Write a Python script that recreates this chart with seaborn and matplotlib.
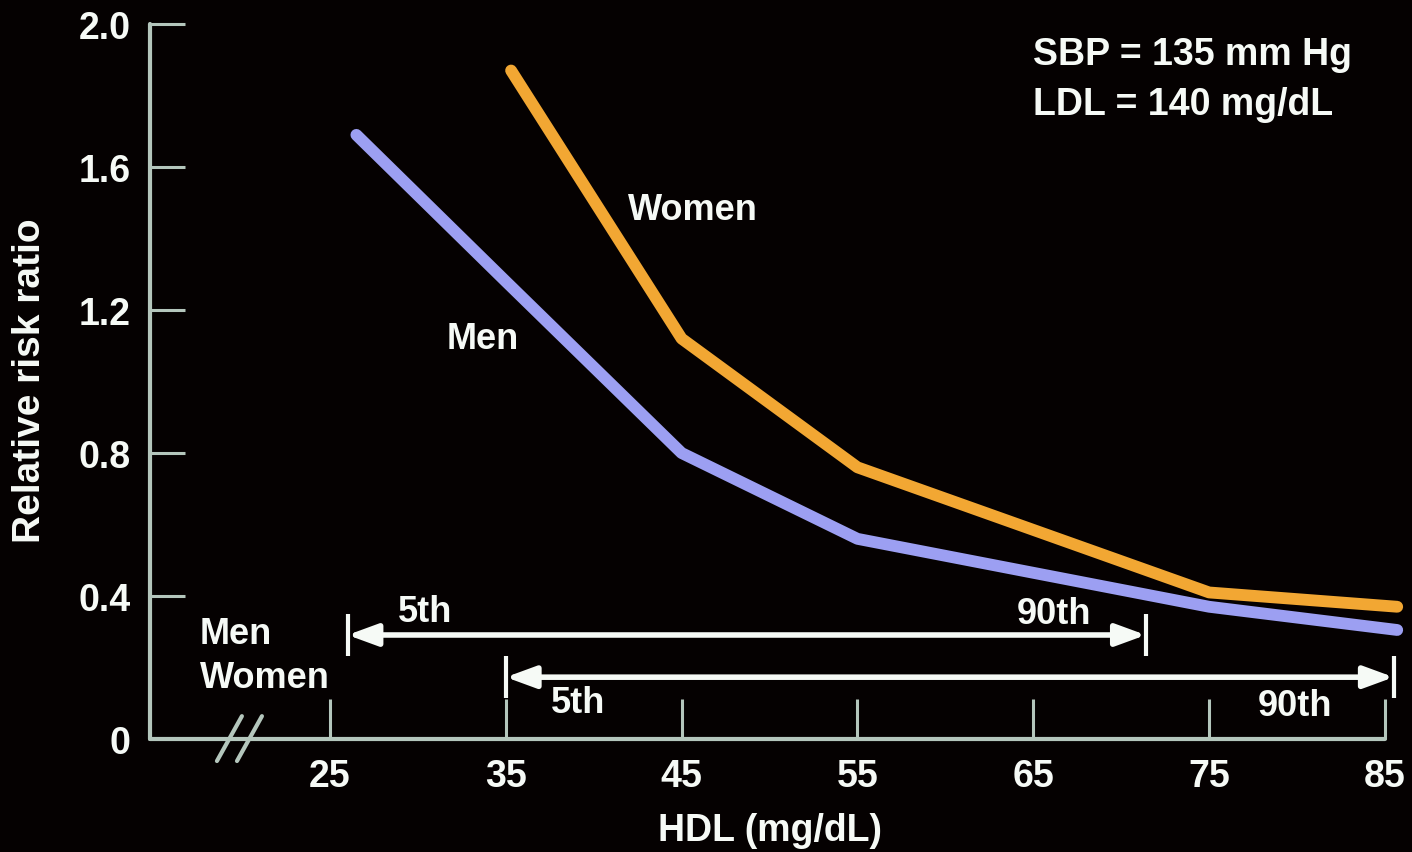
import pandas as pd
import matplotlib
matplotlib.use('Agg')
import matplotlib.pyplot as plt
import seaborn as sns

# values
hdl_men = [26.5, 35, 45, 55, 75, 85.7]
rr_men = [1.69, 1.28, 0.80, 0.56, 0.37, 0.305]
hdl_women = [35.3, 45, 55, 75, 85.7]
rr_women = [1.87, 1.12, 0.76, 0.41, 0.37]

x_ticks = [25, 35, 45, 55, 65, 75, 85]
y_ticks = [0, 0.4, 0.8, 1.2, 1.6, 2.0]
y_tick_labels = ['0', '0.4', '0.8', '1.2', '1.6', '2.0']

# 5th / 90th percentile HDL ranges
men_pct = [26, 71.4]
women_pct = [35, 85.5]
men_row, women_row = 0.291, 0.173

BG = '#050101'
AXIS = '#b4c6bc'
TEXT = '#f6faf6'
palette = {'Men': '#9c9ff2', 'Women': '#f2a733'}
FS = 26


def make_chart():
    df = pd.concat([
        pd.DataFrame({'HDL': hdl_men, 'RR': rr_men, 'Sex': 'Men'}),
        pd.DataFrame({'HDL': hdl_women, 'RR': rr_women, 'Sex': 'Women'}),
    ])

    sns.set_theme(style='dark', rc={'axes.facecolor': BG, 'figure.facecolor': BG})
    plt.rcParams['font.family'] = ['Liberation Sans', 'DejaVu Sans']
    plt.rcParams['font.weight'] = 'bold'

    fig = plt.figure(figsize=(14.12, 8.53), dpi=100)
    ax = fig.add_axes([0, 0, 1, 1])

    sns.lineplot(data=df, x='HDL', y='RR', hue='Sex', palette=palette,
                 linewidth=8.5, sort=False, legend=False, ax=ax,
                 solid_capstyle='round', solid_joinstyle='round')

    x0 = 14.76
    ax.set_xlim(6.232, 86.54)
    ax.set_ylim(-0.316, 2.07)

    for s in ['top', 'right']:
        ax.spines[s].set_visible(False)
    ax.spines['left'].set_position(('data', x0))
    ax.spines['left'].set_bounds(0, 2.0)
    ax.spines['bottom'].set_position(('data', 0))
    ax.spines['bottom'].set_bounds(x0, 85)
    for s in ['left', 'bottom']:
        ax.spines[s].set_color(AXIS)
        ax.spines[s].set_linewidth(3)
        ax.spines[s].set_capstyle('round')

    ax.set_xticks(x_ticks)
    ax.set_yticks(y_ticks)
    ax.set_yticklabels(y_tick_labels)
    ax.tick_params(axis='x', bottom=True, direction='in', length=29, width=2.2,
                   color=AXIS, labelcolor=TEXT, labelsize=27, pad=14)
    ax.tick_params(axis='y', left=True, direction='in', length=25, width=2.2,
                   color=AXIS, labelcolor=TEXT, labelsize=27, pad=14)
    ax.yaxis.get_major_ticks()[0].tick1line.set_visible(False)
    ax.grid(False)

    ax.set_xlabel('HDL (mg/dL)', fontsize=27, color=TEXT, fontweight='bold')
    ax.xaxis.set_label_coords(0.545, 0.047)
    ax.set_ylabel('Relative risk ratio', fontsize=28, color=TEXT, fontweight='bold')
    ax.yaxis.set_label_coords(0.034, 0.554)

    # axis break
    for a, b in [(18.57, 19.99), (19.71, 21.13)]:
        ax.plot([a, b], [-0.0615, 0.064], color=AXIS, lw=3, clip_on=False)

    # curve labels and conditions
    ax.text(45.65, 1.482, 'Women', color=TEXT, fontsize=FS, ha='center', va='center')
    ax.text(33.7, 1.119, 'Men', color=TEXT, fontsize=FS, ha='center', va='center')
    ax.text(64.98, 1.916, 'SBP = 135 mm Hg', color=TEXT, fontsize=FS + 1, va='center')
    ax.text(64.98, 1.776, 'LDL = 140 mg/dL', color=TEXT, fontsize=FS + 1, va='center')

    # percentile ranges
    ax.text(17.6, 0.294, 'Men', color=TEXT, fontsize=FS, va='center')
    ax.text(17.6, 0.173, 'Women', color=TEXT, fontsize=FS, va='center')
    for (lo, hi), yy in [(men_pct, men_row), (women_pct, women_row)]:
        ax.annotate('', xy=(hi, yy), xytext=(lo, yy),
                    arrowprops=dict(arrowstyle='<|-|>,head_length=0.9,head_width=0.33',
                                    color=TEXT, lw=4, shrinkA=0, shrinkB=0,
                                    mutation_scale=20))
        ax.vlines([lo, hi], yy - 0.059, yy + 0.059, color=TEXT, lw=3)
    ax.text(30.4, 0.358, '5th', color=TEXT, fontsize=FS, ha='center', va='center')
    ax.text(66.2, 0.350, '90th', color=TEXT, fontsize=FS, ha='center', va='center')
    ax.text(39.1, 0.101, '5th', color=TEXT, fontsize=FS, ha='center', va='center')
    ax.text(79.9, 0.095, '90th', color=TEXT, fontsize=FS, ha='center', va='center')

    plt.savefig('out.png', dpi=100, facecolor=BG)


if __name__ == "__main__":
    make_chart()
